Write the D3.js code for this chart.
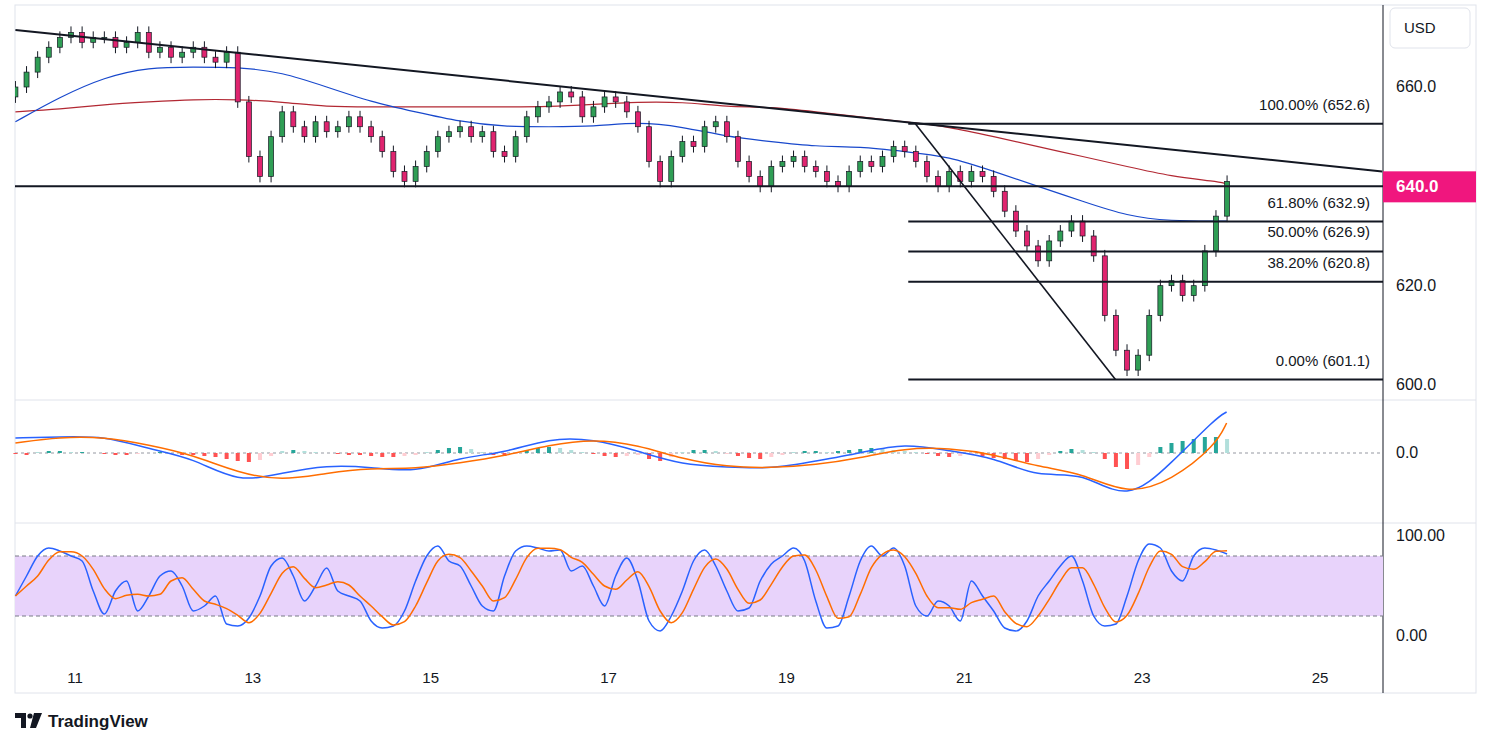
<!DOCTYPE html>
<html><head><meta charset="utf-8">
<script src="https://cdn.jsdelivr.net/npm/d3@7"></script>
<style>body{margin:0;background:#fff;font-family:"Liberation Sans",Arial,sans-serif}</style>
</head><body><svg id="c" width="1491" height="748"></svg>
<script>
// ---- data ----
const startDay = 10.33, barStep = 0.125;
const closes = [
660,663,666,668,670,671,669,670,
670,668,669,671,667,668,666,667,
668,666,665,667,657,646,642,650,
655,652,650,653,651,652,654,652,
650,647,643,641,644,647,650,651,
652,650,651,647,646,650,654,656,
657,659,658,654,656,658,657,655,
652,645,641,646,649,648,652,653,
650,645,642,640,644,645,646,644,
643,641,640,643,645,644,646,648,
647,645,642,640,643,641,643,642,
639,635,631,628,625,629,631,633,
630,626,614,607,603,606,614,620,
621,618,620,627,634,641];
const hist = [
-1,-2,1,2,2,1,1,0,
-1,-2,-2,-1,0,1,0,-2,
-2,-3,-4,-6,-8,-9,-7,-3,
2,3,2,1,0,-1,-2,-2,
-3,-4,-4,-3,-2,1,3,5,
6,4,1,-2,-3,-1,3,5,
6,5,3,1,-1,-3,-4,-3,
-2,-6,-8,-4,1,3,3,2,
-1,-3,-5,-6,-4,-2,1,2,
2,1,2,3,4,5,4,3,
2,1,-1,-3,-4,-3,-2,-3,
-5,-6,-8,-9,-6,-2,2,4,
3,1,-6,-14,-16,-12,-4,6,
10,12,14,16,16,14];
const stochK = [40,60,80,88,85,80,75,45,22,45,55,25,40,60,65,50,25,30,40,12,10,18,40,70,78,60,35,50,68,45,40,35,15,8,10,25,55,80,90,75,70,50,30,25,60,85,90,88,85,86,65,70,50,30,60,78,55,15,5,20,45,75,86,70,45,25,28,55,72,80,88,75,35,8,10,40,75,90,80,88,70,30,20,35,30,15,55,40,25,8,5,15,40,55,70,80,55,20,10,12,40,75,92,88,65,55,80,88,86,82];
const knotDays = [10.33,10.83,11.33,11.83,12.33,12.83,13.33,13.83,14.33,14.83,15.33,15.83,16.33,16.83,17.33,17.83,18.33,18.83,19.33,19.83,20.33,20.83,21.33,21.83,22.33,22.83,23.33,23.83,23.95];
const ma200 = [655,655.5,656.5,657,657.5,657.5,657,656,656,656,656,656,656,656.5,657,657,656,656,655,654,653,652,650,648,646,644,642,641,640.5];
const ma50 = [653,658,662,664,664,664,663,660,657,655,653,652,652,652,653,652,650,649,648,648,647,646,643,640,637,634,633,633,633];
const macdLine = [15,16,17,4,-5,-30,-20,-12,-14,-20,-4,0,15,14,2,-12,-14,-16,-8,0,10,2,-4,-25,-18,-50,-10,35,41];
const signalLine = [10,16,16,8,-2,-20,-28,-20,-15,-16,-10,-3,8,14,8,-6,-14,-15,-12,-5,5,5,-1,-14,-20,-42,-28,8,30];
const fibLevels = [["100.00%",652.6],["61.80%",632.9],["50.00%",626.9],["38.20%",620.8],["0.00%",601.1]];
const priceTicks = [660,620,600];
const dayTicks = [11,13,15,17,19,21,23,25];

// ---- drawing ----
const svg = d3.select("#c");
const L=15,R=1383,W=1476;
const x = d3.scaleLinear().domain([11,25]).range([75,1320]);
const y = d3.scaleLinear().domain([600,660]).range([385,87]);
const ym = d3.scaleLinear().domain([-60,60]).range([513,393]);
const ys = d3.scaleLinear().domain([0,100]).range([636,536]);
const bx = i => x(startDay+i*barStep);

svg.append("rect").attr("x",L).attr("y",5).attr("width",W-L).attr("height",688).attr("fill","none").attr("stroke","#e0e3eb");
svg.append("defs").append("clipPath").attr("id","cp").append("rect").attr("x",L).attr("y",5).attr("width",R-L).attr("height",395);
[400,523].forEach(v=>svg.append("line").attr("x1",L).attr("x2",W).attr("y1",v).attr("y2",v).attr("stroke","#e0e3eb"));
svg.append("line").attr("x1",R).attr("x2",R).attr("y1",5).attr("y2",693).attr("stroke","#131722");

const main = svg.append("g").attr("clip-path","url(#cp)");
const line = (ys_) => d3.line().x((d,i)=>x(knotDays[i])).y(d=>ys_(d)).curve(d3.curveBasis);
main.append("path").attr("d",line(y)(ma200)).attr("fill","none").attr("stroke","#b22833").attr("stroke-width",1.2);
main.append("path").attr("d",line(y)(ma50)).attr("fill","none").attr("stroke","#1848cc").attr("stroke-width",1.2);

closes.forEach((c,i)=>{
  const o = i? closes[i-1] : c-2;
  const up = c>=o, hi=Math.max(o,c)+1.2, lo=Math.min(o,c)-1.2;
  const g = main.append("g");
  g.append("line").attr("x1",bx(i)).attr("x2",bx(i)).attr("y1",y(hi)).attr("y2",y(lo)).attr("stroke","#131722");
  g.append("rect").attr("x",bx(i)-2.5).attr("width",5).attr("y",y(Math.max(o,c))).attr("height",Math.max(1,Math.abs(y(o)-y(c))))
   .attr("fill",up?"#2f9e55":"#e0246f").attr("stroke","#131722").attr("stroke-width",0.7);
});

const seg=(x1,y1,x2,y2,w)=>main.append("line").attr("x1",x1).attr("y1",y1).attr("x2",x2).attr("y2",y2).attr("stroke","#131722").attr("stroke-width",w||2);
seg(x(10.33),y(671.5),x(25.7),y(643));
seg(L,y(640),R,y(640));
seg(x(20.45),y(652.6),x(22.7),y(601.1),1.6);
fibLevels.forEach(([p,v])=>{
  seg(x(20.37),y(v),R,y(v));
  svg.append("text").attr("x",1370).attr("y",y(v)-14).attr("text-anchor","end").attr("font-size",15).attr("fill","#131722").text(`${p} (${v.toFixed(1)})`);
});

priceTicks.forEach(v=>svg.append("text").attr("x",1396).attr("y",y(v)+5).attr("font-size",16).attr("fill","#131722").text(v.toFixed(1)));
svg.append("rect").attr("x",1383).attr("y",y(640)-15).attr("width",93).attr("height",31).attr("fill","#f0167e");
svg.append("text").attr("x",1396).attr("y",y(640)+6).attr("font-size",17).attr("font-weight","bold").attr("fill","#fff").text("640.0");
svg.append("rect").attr("x",1390).attr("y",8).attr("width",80).attr("height",40).attr("rx",5).attr("fill","#fff").attr("stroke","#e0e3eb");
svg.append("text").attr("x",1404).attr("y",33).attr("font-size",15).attr("fill","#131722").text("USD");

svg.append("line").attr("x1",L).attr("x2",R).attr("y1",ym(0)).attr("y2",ym(0)).attr("stroke","#9598a1").attr("stroke-dasharray","3,3");
hist.forEach((h,i)=>{
  const pos=h>=0, prev=i?hist[i-1]:h, grow=Math.abs(h)>=Math.abs(prev);
  svg.append("rect").attr("x",bx(i)-2).attr("width",4).attr("y",Math.min(ym(0),ym(h))).attr("height",Math.abs(ym(h)-ym(0)))
   .attr("fill",pos?(grow?"#26a69a":"#b2dfdb"):(grow?"#ff5252":"#ffcdd2"));
});
svg.append("path").attr("d",line(ym)(macdLine)).attr("fill","none").attr("stroke","#2962ff").attr("stroke-width",1.5);
svg.append("path").attr("d",line(ym)(signalLine)).attr("fill","none").attr("stroke","#ff6d00").attr("stroke-width",1.5);
svg.append("text").attr("x",1396).attr("y",ym(0)+5).attr("font-size",16).attr("fill","#131722").text("0.0");

svg.append("rect").attr("x",L).attr("width",R-L).attr("y",ys(80)).attr("height",ys(20)-ys(80)).attr("fill","#e8d3fb");
[80,20].forEach(v=>svg.append("line").attr("x1",L).attr("x2",R).attr("y1",ys(v)).attr("y2",ys(v)).attr("stroke","#787b86").attr("stroke-dasharray","4,3"));
const stochD = stochK.map((v,i)=>d3.mean(stochK.slice(Math.max(0,i-2),i+1)));
const sl = d3.line().x((d,i)=>bx(i)).y(d=>ys(d)).curve(d3.curveMonotoneX);
svg.append("path").attr("d",sl(stochK)).attr("fill","none").attr("stroke","#2962ff").attr("stroke-width",1.5);
svg.append("path").attr("d",sl(stochD)).attr("fill","none").attr("stroke","#ff6d00").attr("stroke-width",1.5);
svg.append("text").attr("x",1396).attr("y",ys(100)+5).attr("font-size",16).attr("fill","#131722").text("100.00");
svg.append("text").attr("x",1396).attr("y",ys(0)+5).attr("font-size",16).attr("fill","#131722").text("0.00");

dayTicks.forEach(d=>svg.append("text").attr("x",x(d)).attr("y",683).attr("text-anchor","middle").attr("font-size",15).attr("fill","#131722").text(d));

const lg=svg.append("g").attr("fill","#131722");
lg.append("path").attr("d","M15 713 h11 v15 h-5 v-10 h-6z");
lg.append("circle").attr("cx",30).attr("cy",716).attr("r",2.6);
lg.append("path").attr("d","M34 713 h8 l-6 15 h-6z");
svg.append("text").attr("x",48).attr("y",727).attr("font-size",17).attr("font-weight","bold").attr("fill","#131722").text("TradingView");
</script></body></html>
